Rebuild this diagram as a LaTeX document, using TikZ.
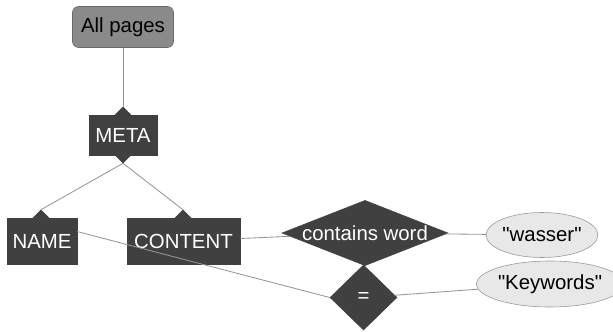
\documentclass[tikz,border=0pt]{standalone}
\usepackage{fontspec}
\setmainfont{Liberation Sans}
\usetikzlibrary{shapes.geometric}

\definecolor{boxgray}{RGB}{64,64,64}
\definecolor{topgray}{RGB}{138,138,138}
\definecolor{topborder}{RGB}{105,105,105}
\definecolor{valgray}{RGB}{232,232,232}
\definecolor{linegray}{RGB}{150,150,150}

\tikzset{
  dark/.style={fill=boxgray, draw=boxgray, text=white, inner sep=0pt},
  box/.style={dark, rectangle, minimum height=1.15cm},
  tab/.style={dark, diamond, minimum width=0.4cm, minimum height=0.4cm},
  test/.style={dark, diamond, shape aspect=2.5},
  value/.style={ellipse, fill=valgray, draw=linegray, inner sep=0pt},
  link/.style={draw=linegray, line width=0.6pt}
}

\begin{document}
\begin{tikzpicture}[x=0.025cm, y=-0.025cm, font=\fontsize{14.5}{17}\selectfont]
  \useasboundingbox (0,0) rectangle (613,331);
%  \draw [help lines] (0,0) grid[step=0.5cm] (613,331);
  % root
  \node [rounded corners=0.15cm, fill=topgray, draw=topborder, minimum width=2.525cm,
         minimum height=1.025cm, inner sep=0pt] (all) at (123,27) {All pages};
  % tabs first, the boxes sit on top of them
  \node [tab] (metatop) at (123,115) {};
  \node [tab] (metabot) at (123,155) {};
  \node [tab] (nametab) at (41,218) {};
  \node [tab] (conttab) at (183,218) {};
  \node [box, minimum width=1.7cm, minimum height=1.0cm] (meta) at (123,135) {META};
  \node [box, minimum width=1.75cm] (name) at (42,241) {NAME};
  \node [box, minimum width=2.825cm] (content) at (183.5,241) {CONTENT};
  % tests
  \node [test, minimum width=4.15cm, minimum height=1.625cm] (contains) at (365,233) {contains word};
  \node [test, minimum width=1.675cm, minimum height=1.625cm] (equals) at (363.5,297.5) {=};
  % values
  \node [value, minimum width=2.525cm, minimum height=1.125cm] (wasser) at (542,235)
        {\textquotedbl wasser\textquotedbl};
  \node [value, minimum width=3.025cm, minimum height=1.15cm] (keywords) at (550,284)
        {\textquotedbl Keywords\textquotedbl};

  \draw [link] (all) -- (metatop);
  \draw [link] (metabot.south) -- (nametab.north);
  \draw [link] (metabot.south) -- (conttab.north);
  \draw [link] (content) -- (contains);
  \draw [link] (contains) -- (wasser);
  \draw [link] (equals) -- (keywords);
  \draw [link] (name.15) -- (equals.west);
\end{tikzpicture}
\end{document}
